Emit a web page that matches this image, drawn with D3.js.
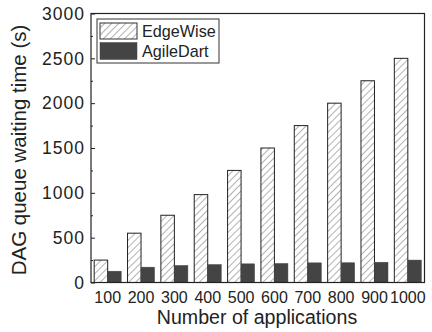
<!DOCTYPE html>
<html><head><meta charset="utf-8">
<script src="https://cdn.jsdelivr.net/npm/d3@7"></script>
<style>body{margin:0;background:#fff}svg{display:block}text{font-family:"Liberation Sans",Arial,sans-serif}</style>
</head><body>
<svg id="c" width="432" height="332"></svg>
<script>
const categories = ["100","200","300","400","500","600","700","800","900","1000"];
const edgeWise = [250,550,750,980,1250,1500,1750,2000,2250,2500];
const agileDart = [126,171,190,200,208,212,219,220,226,250];
const seriesNames = ["EdgeWise","AgileDart"];
const yTicks = [0,500,1000,1500,2000,2500,3000];
const yMinorTicks = [250,750,1250,1750,2250,2750];

const svg = d3.select("#c");
const L=91, R=424.5, T=13.5, B=282.5;
const defs = svg.append("defs");
const pat = defs.append("pattern").attr("id","hatch").attr("patternUnits","userSpaceOnUse")
  .attr("width",5).attr("height",5).attr("patternTransform","rotate(45)");
pat.append("rect").attr("width",5).attr("height",5).attr("fill","#fff");
pat.append("line").attr("x1",0).attr("y1",0).attr("x2",0).attr("y2",5).attr("stroke","#555").attr("stroke-width",0.9);

const x = d3.scaleBand().domain(categories).range([L,R]).paddingInner(0).paddingOuter(0);
const y = d3.scaleLinear().domain([0,3000]).range([B,T]);
const bw = 13.5;

const g = svg.append("g");
categories.forEach((c,i)=>{
  const cx = x(c)+x.bandwidth()/2;
  g.append("rect").attr("x",cx-bw).attr("y",y(edgeWise[i])).attr("width",bw).attr("height",y(0)-y(edgeWise[i]))
    .attr("fill","url(#hatch)").attr("stroke","#222").attr("stroke-width",1);
  g.append("rect").attr("x",cx).attr("y",y(agileDart[i])).attr("width",bw).attr("height",y(0)-y(agileDart[i]))
    .attr("fill","#444").attr("stroke","#444").attr("stroke-width",0.5);
});

// frame
svg.append("rect").attr("x",L).attr("y",T).attr("width",R-L).attr("height",B-T)
  .attr("fill","none").attr("stroke","#222").attr("stroke-width",1.2);

// y axis
const ya = svg.append("g").attr("transform",`translate(${L},0)`)
  .call(d3.axisRight(y).tickValues(yTicks).tickSize(4).tickFormat(""));
ya.select(".domain").remove();
ya.selectAll("line").attr("stroke","#222");
const yam = svg.append("g").attr("transform",`translate(${L},0)`)
  .call(d3.axisRight(y).tickValues(yMinorTicks).tickSize(2).tickFormat(""));
yam.select(".domain").remove();
yam.selectAll("line").attr("stroke","#222");
svg.append("g").selectAll("text").data(yTicks).join("text")
  .attr("x",L-6).attr("y",d=>y(d)).attr("dy","0.36em").attr("text-anchor","end")
  .attr("font-size",17.5).attr("letter-spacing","1px").attr("fill","#222").text(d=>d);

// x labels
const xa = svg.append("g").attr("transform",`translate(0,${B})`)
  .call(d3.axisBottom(x).tickSize(0).tickPadding(9));
xa.select(".domain").remove();
xa.selectAll("text").attr("font-size",16).attr("fill","#222").attr("font-family","Liberation Sans, Arial, sans-serif");

svg.append("text").attr("x",257).attr("y",324).attr("text-anchor","middle")
  .attr("font-size",19.6).attr("fill","#222").text("Number of applications");
svg.append("text").attr("transform",`translate(26,${(T+B)/2+2}) rotate(-90)`).attr("text-anchor","middle")
  .attr("font-size",20.5).attr("fill","#222").text("DAG queue waiting time (s)");

// legend
const lg = svg.append("g");
lg.append("rect").attr("x",97).attr("y",19).attr("width",122).attr("height",44)
  .attr("fill","#fff").attr("stroke","#333").attr("stroke-width",1);
lg.append("rect").attr("x",100).attr("y",23).attr("width",37).attr("height",16)
  .attr("fill","url(#hatch)").attr("stroke","#333").attr("stroke-width",1);
lg.append("rect").attr("x",100).attr("y",42.5).attr("width",37).attr("height",17)
  .attr("fill","#444").attr("stroke","#444").attr("stroke-width",0.5);
lg.selectAll("text.l").data(seriesNames).join("text").attr("class","l")
  .attr("x",142).attr("y",(d,i)=>31.5+i*20).attr("dy","0.35em")
  .attr("font-size",16.2).attr("fill","#222").text(d=>d);
</script>
</body></html>
